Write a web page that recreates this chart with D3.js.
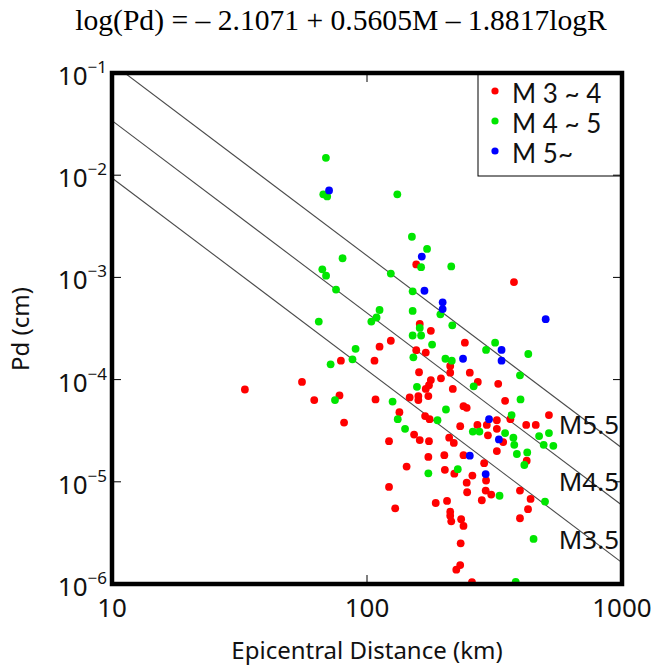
<!DOCTYPE html>
<html><head><meta charset="utf-8">
<script src="https://cdn.jsdelivr.net/npm/d3@7"></script>
<style>html,body{margin:0;padding:0;background:#fff;}</style>
</head><body>
<svg id="c" width="659" height="670"></svg>
<script>
const xTicks = [10, 100, 1000];
const yTicks = [1e-1, 1e-2, 1e-3, 1e-4, 1e-5, 1e-6];
const yTickExp = ["−1", "−2", "−3", "−4", "−5", "−6"];
const legendLabels = ["M 3 ~ 4", "M 4 ~ 5", "M 5~"];
const seriesColors = ["#ff0000", "#00e600", "#0000ff"];
const lineMags = [5.5, 4.5, 3.5];
const lineLabels = ["M5.5", "M4.5", "M3.5"];
const coef = {a: -2.1071, b: 0.5605, c: -1.8817};

// [Epicentral distance km, Pd cm]
const m34 = [
[156,1.34e-3],[377,9.0e-4],[161,3.5e-4],[178,3.0e-4],[124,2.4e-4],[242,2.3e-4],[112,2.1e-4],[156,1.94e-4],
[170,1.84e-4],[107,1.53e-4],[212,1.36e-4],[160,1.18e-4],[253,1.17e-4],[212,1.17e-4],[195,1.03e-4],[178,9.9e-5],
[272,9.5e-5],[327,9.1e-5],[175,8.8e-5],[170,8.1e-5],[217,8.1e-5],[108,6.4e-5],[147,6.7e-5],[159,6.9e-5],
[174,6.9e-5],[159,6.3e-5],[348,6.2e-5],[239,5.5e-5],[246,5.3e-5],[134,4.8e-5],[517,4.5e-5],[169,4.4e-5],
[176,4.1e-5],[323,4.0e-5],[365,4.1e-5],[295,3.6e-5],[232,3.5e-5],[271,3.6e-5],[421,3.6e-5],[459,3.6e-5],
[323,3.3e-5],[298,2.85e-5],[153,2.9e-5],[161,2.56e-5],[175,2.5e-5],[122,2.5e-5],[210,2.7e-5],[219,2.4e-5],
[342,2.45e-5],[323,2.0e-5],[174,1.75e-5],[201,1.82e-5],[239,1.82e-5],[423,1.61e-5],[288,1.52e-5],[143,1.41e-5],
[202,1.31e-5],[220,1.2e-5],[259,1.15e-5],[293,1.03e-5],[246,9.8e-6],[122,8.9e-6],[247,7.9e-6],[292,8.2e-6],
[307,7.5e-6],[398,8.2e-6],[282,6.6e-6],[438,6.8e-6],[186,6.2e-6],[206,6.5e-6],[129,5.5e-6],[428,5.4e-6],
[212,5.1e-6],[212,4.65e-6],[214,4.1e-6],[234,4.3e-6],[239,3.7e-6],[398,4.4e-6],[233,2.5e-6],[232,1.53e-6],
[224,1.38e-6],[258,1.04e-6],[79,1.53e-4],[55.6,9.5e-5],[33.2,8.0e-5],[62.1,6.3e-5],[78,7.0e-5],[81.3,3.8e-5]
];
const m45 = [
[69,1.48e-2],[67.4,6.5e-3],[69.8,6.2e-3],[80.2,1.54e-3],[66.8,1.2e-3],[69.1,1.04e-3],[75.6,7.6e-4],[64.7,3.7e-4],
[131.5,6.5e-3],[150,2.5e-3],[172,1.9e-3],[163,1.26e-3],[214,1.28e-3],[124,1.09e-3],[151,7.3e-4],[194,4.35e-4],
[112,4.8e-4],[109,4.05e-4],[151,4.7e-4],[104,3.7e-4],[161,3.2e-4],[216,3.4e-4],[151,2.7e-4],[163,2.7e-4],
[318,2.3e-4],[180,2.2e-4],[293,1.95e-4],[429,1.78e-4],[152,1.65e-4],[203,1.6e-4],[215,1.53e-4],[398,1.1e-4],
[262,8.6e-5],[157,8.5e-5],[400,6.4e-5],[126,6.1e-5],[204,5.1e-5],[369,4.5e-5],[132,4.1e-5],[189,4.0e-5],
[141,3.3e-5],[260,3.1e-5],[276,3.1e-5],[348,3.0e-5],[517,3.0e-5],[473,2.8e-5],[375,2.7e-5],[378,2.3e-5],
[493,2.3e-5],[538,2.25e-5],[387,1.87e-5],[425,1.94e-5],[414,1.46e-5],[227,1.33e-5],[174,1.21e-5],[331,7.3e-6],
[499,6.4e-6],[450,2.76e-6],[383,1.05e-6],[90.2,2.0e-4],[87.7,1.58e-4],[72,1.41e-4],[74.9,6.3e-5]
];
const m5 = [
[71,7.1e-3],[164,1.6e-3],[168,7.4e-4],[198,5.7e-4],[198,4.9e-4],[502,3.9e-4],[337,1.95e-4],[238,1.6e-4],
[337,1.53e-4],[301,4.1e-5],[329,2.6e-5],[253,1.8e-5],[292,1.19e-5]
];
const groups = [m34, m45, m5];

const svg = d3.select("#c");
const L = 112, R = 622, T = 73, B = 584;
const x = d3.scaleLog().domain([10, 1000]).range([L, R]);
const y = d3.scaleLog().domain([1e-6, 1e-1]).range([B, T]);
const sans = "'Noto Sans', 'Open Sans', sans-serif";

svg.append("text").attr("x", 341).attr("y", 30).attr("text-anchor", "middle")
  .attr("font-family", "'Liberation Serif', 'Times New Roman', serif").attr("font-size", 29.6)
  .text("log(Pd) = – 2.1071 + 0.5605M – 1.8817logR");

svg.append("clipPath").attr("id", "clip").append("rect")
  .attr("x", L).attr("y", T).attr("width", R - L).attr("height", B - T);

const plot = svg.append("g").attr("clip-path", "url(#clip)");
const fit = (m, r) => Math.pow(10, coef.a + coef.b * m + coef.c * Math.log10(r));
lineMags.forEach(m => {
  plot.append("line")
    .attr("x1", x(10)).attr("y1", y(fit(m, 10)))
    .attr("x2", x(1000)).attr("y2", y(fit(m, 1000)))
    .attr("stroke", "#4a4a4a").attr("stroke-width", 1.1);
});

groups.forEach((g, i) => {
  plot.append("g").selectAll("circle").data(g).join("circle")
    .attr("cx", d => x(d[0])).attr("cy", d => y(d[1])).attr("r", 3.9)
    .attr("fill", seriesColors[i]);
});

lineMags.forEach((m, i) => {
  svg.append("text").attr("x", x(565)).attr("y", y(fit(m, 1000)) - 14)
    .attr("font-family", sans).attr("font-size", 26).attr("fill", "#111")
    .text(lineLabels[i]);
});

// legend
const lg = svg.append("g");
lg.append("rect").attr("x", 478).attr("y", T).attr("width", R - 478).attr("height", 176 - T)
  .attr("fill", "#fff").attr("stroke", "#000").attr("stroke-width", 1);
legendLabels.forEach((t, i) => {
  lg.append("circle").attr("cx", 495).attr("cy", 91 + i * 30).attr("r", 3.6).attr("fill", seriesColors[i]);
  lg.append("text").attr("x", 512).attr("y", 103 + i * 30).attr("font-family", "Lato, 'Noto Sans', sans-serif")
    .attr("font-size", 26).attr("fill", "#111").text(t);
});

// ticks
const tk = svg.append("g").attr("stroke", "#000").attr("stroke-width", 1);
xTicks.slice(1, -1).forEach(v => {
  tk.append("line").attr("x1", x(v)).attr("x2", x(v)).attr("y1", B).attr("y2", B - 9);
  tk.append("line").attr("x1", x(v)).attr("x2", x(v)).attr("y1", T).attr("y2", T + 9);
});
yTicks.slice(1, -1).forEach(v => {
  tk.append("line").attr("x1", L).attr("x2", L + 9).attr("y1", y(v)).attr("y2", y(v));
  tk.append("line").attr("x1", R).attr("x2", R - 9).attr("y1", y(v)).attr("y2", y(v));
});

// frame
svg.append("rect").attr("x", L).attr("y", T).attr("width", R - L).attr("height", B - T)
  .attr("fill", "none").attr("stroke", "#000").attr("stroke-width", 4.5);

// tick labels
xTicks.forEach(v => {
  svg.append("text").attr("x", x(v)).attr("y", 617).attr("text-anchor", "middle")
    .attr("font-family", sans).attr("font-size", 26).attr("fill", "#111").text(v);
});
yTicks.forEach((v, i) => {
  const t = svg.append("text").attr("x", 107).attr("y", y(v) + 12).attr("text-anchor", "end")
    .attr("font-family", sans).attr("fill", "#111");
  t.append("tspan").attr("font-size", 26).text("10");
  t.append("tspan").attr("font-size", 17).attr("dy", -12).text(yTickExp[i]);
});

svg.append("text").attr("x", 367).attr("y", 659).attr("text-anchor", "middle")
  .attr("font-family", sans).attr("font-size", 24).attr("fill", "#111").text("Epicentral Distance (km)");
svg.append("text").attr("transform", "translate(29,329) rotate(-90)").attr("text-anchor", "middle")
  .attr("font-family", sans).attr("font-size", 24).attr("fill", "#111").text("Pd (cm)");
</script>
</body></html>
